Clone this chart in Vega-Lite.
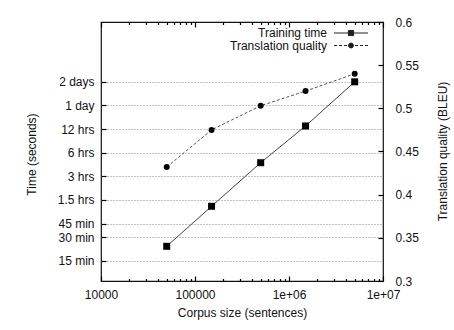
{
  "$schema": "https://vega.github.io/schema/vega-lite/v6.json",
  "width": 282,
  "height": 259,
  "autosize": "none",
  "padding": {"left": 101, "top": 22, "right": 71, "bottom": 49},
  "background": "white",
  "config": {
    "view": {"stroke": "#111", "strokeWidth": 1.2},
    "font": "Liberation Sans",
    "axis": {
      "labelFont": "Liberation Sans",
      "labelFontSize": 12,
      "labelColor": "#111",
      "titleFont": "Liberation Sans",
      "titleFontSize": 12,
      "titleFontWeight": "normal",
      "titleColor": "#111",
      "domain": false,
      "tickColor": "#000",
      "tickWidth": 1.2,
      "tickSize": 5,
      "offset": -5,
      "zindex": 1
    }
  },
  "data": {
    "values": [
      {"series": "Training time", "size": 50000, "value": 1384},
      {"series": "Training time", "size": 150000, "value": 4477},
      {"series": "Training time", "size": 500000, "value": 16100},
      {"series": "Training time", "size": 1500000, "value": 47270},
      {"series": "Training time", "size": 5000000, "value": 172800},
      {"series": "Translation quality", "size": 50000, "value": 0.432},
      {"series": "Translation quality", "size": 150000, "value": 0.475},
      {"series": "Translation quality", "size": 500000, "value": 0.503},
      {"series": "Translation quality", "size": 1500000, "value": 0.52},
      {"series": "Translation quality", "size": 5000000, "value": 0.54}
    ]
  },
  "layer": [
    {
      "transform": [{"filter": "datum.series === 'Training time'"}],
      "encoding": {
        "x": {
          "field": "size",
          "type": "quantitative",
          "scale": {"type": "log", "domain": [10000, 10000000], "nice": false},
          "axis": {
            "orient": "bottom",
            "offset": -5,
            "values": [10000, 20000, 30000, 40000, 50000, 60000, 70000, 80000, 90000, 100000, 200000, 300000, 400000, 500000, 600000, 700000, 800000, 900000, 1000000, 2000000, 3000000, 4000000, 5000000, 6000000, 7000000, 8000000, 9000000, 10000000],
            "labelExpr": "datum.value == 10000 ? '10000' : datum.value == 100000 ? '100000' : datum.value == 1000000 ? '1e+06' : datum.value == 10000000 ? '1e+07' : ''",
            "labelOverlap": false,
            "labelFlush": false,
            "tickSize": 5,
            "tickDash": {"condition": {"test": "indexof([10000, 100000, 1000000, 10000000], datum.value) < 0", "value": [0, 2.5, 2.5, 10]}, "value": []},
            "labelPadding": 8,
            "grid": false,
            "title": "Corpus size (sentences)",
            "titleX": 141,
            "titleY": 36,
            "titleBaseline": "middle",
            "titleAlign": "center"
          }
        },
        "y": {
          "field": "value",
          "type": "quantitative",
          "scale": {"type": "log", "domain": [500, 1000000], "nice": false},
          "axis": {
            "orient": "left",
            "offset": -5,
            "values": [900, 1800, 2700, 5400, 10800, 21600, 43200, 86400, 172800],
            "labelExpr": "datum.value == 900 ? '15 min' : datum.value == 1800 ? '30 min' : datum.value == 2700 ? '45 min' : datum.value == 5400 ? '1.5 hrs' : datum.value == 10800 ? '3 hrs' : datum.value == 21600 ? '6 hrs' : datum.value == 43200 ? '12 hrs' : datum.value == 86400 ? '1 day' : '2 days'",
            "labelOverlap": false,
            "tickSize": 5,
            "labelPadding": 7,
            "grid": true,
            "gridDash": [1, 2],
            "gridColor": "#888",
            "gridWidth": 1,
            "title": "Time (seconds)",
            "titleAngle": 270,
            "titleX": -75,
            "titleY": 132,
            "titleBaseline": "middle",
            "titleAlign": "center"
          }
        }
      },
      "layer": [
        {"mark": {"type": "line", "color": "#444", "strokeWidth": 1}},
        {"mark": {"type": "point", "shape": "square", "filled": true, "color": "black", "size": 49, "opacity": 1}},
        {
          "mark": {"type": "point", "filled": false, "color": "#222", "fill": "black", "stroke": "#222", "strokeWidth": 1, "size": 64, "opacity": 0},
          "encoding": {
            "shape": {
              "field": "series",
              "type": "nominal",
              "scale": {
                "domain": ["Training time", "Translation quality"],
                "range": [
                  "M-4.25,0H4.25M-0.65,-0.65H0.65V0.65H-0.65ZM-0.65,-0.4H0.65M-0.65,-0.15H0.65M-0.65,0.1H0.65M-0.65,0.35H0.65M-0.65,0.45H0.65",
                  "M-4.25,0H-3.5M-3,0H-2.25M-1.75,0H-1M1,0H1.75M2.25,0H3M3.5,0H4.25M0.6,0A0.6,0.6,0,1,1,-0.6,0A0.6,0.6,0,1,1,0.6,0ZM-0.58,-0.125H0.58M-0.58,0.125H0.58M-0.46,-0.375H0.46M-0.46,0.375H0.46"
                ]
              },
              "legend": {
                "orient": "none",
                "legendX": 244,
                "legendY": 5,
                "title": null,
                "padding": 0,
                "rowPadding": 0.5,
                "labelAlign": "right",
                "labelOffset": -30,
                "labelFont": "Liberation Sans",
                "labelFontSize": 12,
                "labelColor": "#111",
                "symbolSize": 64,
                "symbolOpacity": 1,
                "symbolStrokeWidth": 1,
                "encode": {
                  "symbols": {
                    "update": {
                      "opacity": {"value": 1},
                      "strokeOpacity": {"value": 1},
                      "strokeWidth": {"value": 1},
                      "size": {"value": 64}
                    }
                  }
                }
              }
            }
          }
        }
      ]
    },
    {
      "transform": [{"filter": "datum.series === 'Translation quality'"}],
      "encoding": {
        "x": {
          "field": "size",
          "type": "quantitative",
          "scale": {"type": "log", "domain": [10000, 10000000], "nice": false},
          "axis": {
            "orient": "top",
            "offset": -5,
            "values": [10000, 20000, 30000, 40000, 50000, 60000, 70000, 80000, 90000, 100000, 200000, 300000, 400000, 500000, 600000, 700000, 800000, 900000, 1000000, 2000000, 3000000, 4000000, 5000000, 6000000, 7000000, 8000000, 9000000, 10000000],
            "labels": false,
            "tickSize": 5,
            "tickDash": {"condition": {"test": "indexof([10000, 100000, 1000000, 10000000], datum.value) < 0", "value": [0, 2.5, 2.5, 10]}, "value": []},
            "grid": false,
            "title": null
          }
        },
        "y": {
          "field": "value",
          "type": "quantitative",
          "scale": {"domain": [0.3, 0.6], "nice": false, "zero": false},
          "axis": {
            "orient": "right",
            "offset": -5,
            "values": [0.3, 0.35, 0.4, 0.45, 0.5, 0.55, 0.6],
            "format": ".2~f",
            "labelOverlap": false,
            "labelFlush": false,
            "tickSize": 5,
            "labelPadding": 12,
            "grid": false,
            "title": "Translation quality (BLEU)",
            "titleAngle": 270,
            "titleX": 64,
            "titleY": 129,
            "titleBaseline": "middle",
            "titleAlign": "center"
          }
        }
      },
      "layer": [
        {"mark": {"type": "line", "color": "#555", "strokeWidth": 1, "strokeDash": [3, 2]}},
        {"mark": {"type": "point", "shape": "circle", "filled": true, "color": "black", "size": 36, "opacity": 1}}
      ]
    }
  ],
  "resolve": {"scale": {"y": "independent"}, "axis": {"x": "independent"}}
}
